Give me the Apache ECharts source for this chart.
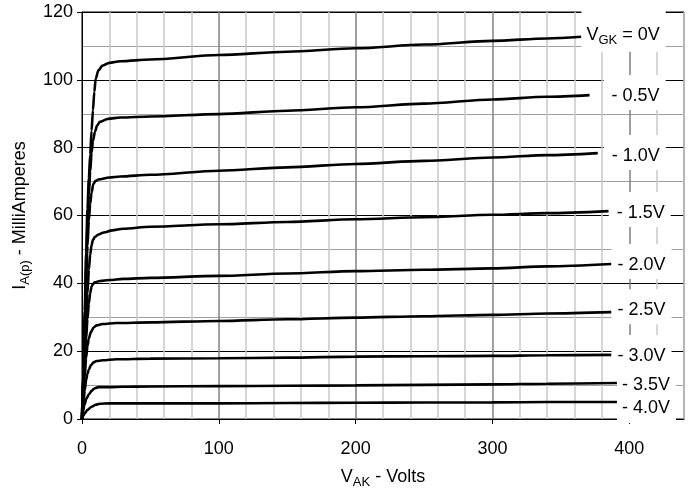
<!DOCTYPE html>
<html>
<head>
<meta charset="utf-8">
<script src="https://cdn.jsdelivr.net/npm/echarts@6/dist/echarts.min.js"></script>
<style>
html,body{margin:0;padding:0;background:#fff;}
#chart{width:694px;height:490px;}
</style>
</head>
<body>
<div id="chart"></div>
<script>
// Tick labels
var xTickValues = [0, 100, 200, 300, 400];
var yTickValues = [0, 20, 40, 60, 80, 100, 120];

// Curve labels (grid voltage)
var curveLabels = ['{n|V}{s|GK}{n| = 0V}', '- 0.5V', '- 1.0V', '- 1.5V', '- 2.0V', '- 2.5V', '- 3.0V', '- 3.5V', '- 4.0V'];

// Plate current curves: [V_AK (Volts), I_A (mA)]
var curve0V = [[0,0],[1,15],[2,32],[3,49],[4,62],[5,71],[6,78],[7,85],[8,91],[9,96.5],[10,100.3],[12,102.8],[15,104.2],[20,105],[28,105.5],[50,106],[100,107.3],[150,108.3],[200,109.3],[250,110.4],[300,111.5],[340,112.2],[365,112.7]];
var curveM05 = [[0,0],[1,14],[2,29],[3,44],[4,57],[5,66],[6,73],[7,78.5],[8,82],[9.5,84.7],[11,86.5],[13,87.6],[19,88.5],[28,88.9],[50,89.2],[100,89.9],[150,90.9],[200,91.9],[250,93],[300,94.2],[340,95],[371,95.5]];
var curveM10 = [[0,0],[1,13],[2,27],[3,40],[4,51],[5,58.5],[6,63.5],[7,66.8],[8.3,69.3],[10,70.2],[12,70.6],[20,71.2],[28,71.5],[50,72],[100,73.2],[150,74.2],[200,75.2],[250,76.1],[300,77.1],[340,77.8],[377,78.4]];
var curveM15 = [[0,0],[1,10],[2,19.5],[3,28.5],[4,37],[5,44],[6,48.5],[7,51.3],[8,52.8],[9.5,53.7],[12,54.4],[16,55],[22,55.6],[30,56.1],[50,56.7],[100,57.4],[150,58.1],[200,58.9],[250,59.5],[300,60.2],[340,60.7],[385,61.3]];
var curveM20 = [[0,0],[1,8.5],[2,16.5],[3,23.5],[4,29.5],[5,34],[6,37.2],[7,39],[8,39.8],[9.5,40.3],[13,40.7],[20,41],[30,41.3],[50,41.6],[100,42.2],[150,42.9],[200,43.6],[250,44],[300,44.4],[340,45],[387,45.7]];
var curveM25 = [[0,0],[1,6.5],[2,12.5],[3,18],[4,21.5],[5,23.8],[6.6,25.7],[8.5,27],[10.7,27.6],[15,28],[25,28.3],[50,28.5],[100,28.9],[150,29.4],[200,29.9],[250,30.3],[300,30.7],[340,31.1],[387,31.5]];
var curveM30 = [[0,0],[1,4.5],[2,8.5],[3,11.5],[4,13.3],[5,14.6],[6.6,15.9],[8.5,16.7],[10.7,17.1],[15,17.3],[25,17.6],[50,17.8],[100,17.9],[150,18.1],[200,18.4],[250,18.5],[300,18.6],[340,18.8],[387,18.9]];
var curveM35 = [[0,0],[1,2.6],[1.7,4.1],[3.4,6.1],[5,7.3],[7,8.3],[9,9],[12,9.4],[20,9.4],[30,9.5],[50,9.6],[100,9.7],[150,9.8],[200,9.9],[250,10.05],[300,10.2],[340,10.4],[391,10.6]];
var curveM40 = [[0,0],[1,1],[2.2,1.8],[4,2.7],[7,3.6],[10,4.2],[13,4.5],[20,4.6],[50,4.6],[100,4.6],[150,4.7],[200,4.8],[250,4.85],[300,4.9],[340,5],[391,5]];

var curves = [curve0V, curveM05, curveM10, curveM15, curveM20, curveM25, curveM30, curveM35, curveM40];

// label placement (styling only)
var labelPad = [[12,6,5,5],[12,6,5,8],[12,6,5,8],[12,6,5,8],[12,6,5,6],[12,6,5,6],[12,6,5,6],[8,6,4,5],[4,6,6,5]];
var labelOff = [[0,-5.5],[14,-2.5],[6,-0.5],[0,-1.5],[0,-2.5],[0,-5.5],[0,-2.5],[0,0],[0,7]];

var FONT = '"Liberation Sans", Arial, sans-serif';
var richSub = {
  n: {fontSize: 18, lineHeight: 24, color: '#000', fontFamily: FONT},
  s: {fontSize: 13, lineHeight: 13, verticalAlign: 'bottom', color: '#000', fontFamily: FONT}
};

var series = curves.map(function (c, i) {
  return {
    type: 'line',
    xAxisIndex: 0,
    yAxisIndex: 0,
    data: c,
    showSymbol: false,
    smooth: 0.3,
    smoothMonotone: 'x',
    lineStyle: {color: '#000', width: 2.6},
    silent: true,
    endLabel: {
      show: true,
      formatter: curveLabels[i],
      distance: 0,
      offset: labelOff[i],
      backgroundColor: '#fff',
      padding: labelPad[i],
      fontSize: 18,
      color: '#000',
      fontFamily: FONT,
      rich: richSub
    }
  };
});

var chart = echarts.init(document.getElementById('chart'), null, {renderer: 'canvas'});
chart.setOption({
  animation: false,
  backgroundColor: '#fff',
  textStyle: {fontFamily: FONT},
  grid: {left: 82, right: 10, top: 12, bottom: 71, show: true, borderColor: '#000', borderWidth: 1, backgroundColor: 'transparent', containLabel: false, outerBoundsMode: 'none'},
  xAxis: [{
    // grid axis (split lines every 20)
    type: 'value', min: 0, max: 440, interval: 20, position: 'bottom',
    axisLine: {show: true, lineStyle: {color: '#000', width: 1}},
    axisTick: {show: false},
    axisLabel: {show: false},
    splitLine: {show: true, lineStyle: {color: ['#808080', '#c8c8c8', '#c8c8c8', '#c8c8c8', '#c8c8c8'], width: 1.5}}
  }, {
    // labelled axis
    type: 'value', min: 0, max: 440, position: 'bottom',
    axisLine: {show: false},
    axisTick: {show: true, customValues: xTickValues, length: 5, lineStyle: {color: '#000'}},
    axisLabel: {customValues: xTickValues, fontSize: 18, color: '#000', margin: 21, fontFamily: FONT},
    splitLine: {show: false},
    name: '{n|V}{s|AK}{n| - Volts}',
    nameLocation: 'middle',
    nameGap: 46,
    nameTextStyle: {rich: richSub}
  }],
  yAxis: [{
    type: 'value', min: 0, max: 120, interval: 10, position: 'left',
    axisLine: {show: true, lineStyle: {color: '#000', width: 1}},
    axisTick: {show: false},
    axisLabel: {show: false},
    splitLine: {show: true, lineStyle: {color: ['#000', '#a0a0a0'], width: 1}}
  }, {
    type: 'value', min: 0, max: 120, position: 'left',
    axisLine: {show: false},
    axisTick: {show: true, customValues: yTickValues, length: 5, lineStyle: {color: '#000'}},
    axisLabel: {customValues: yTickValues, fontSize: 18, color: '#000', margin: 9, fontFamily: FONT},
    splitLine: {show: false},
    name: '{n|I}{s|A(p)}{n| - MilliAmperes}',
    nameLocation: 'middle',
    nameGap: 46,
    nameTextStyle: {rich: richSub}
  }],
  series: series
});
</script>
</body>
</html>
